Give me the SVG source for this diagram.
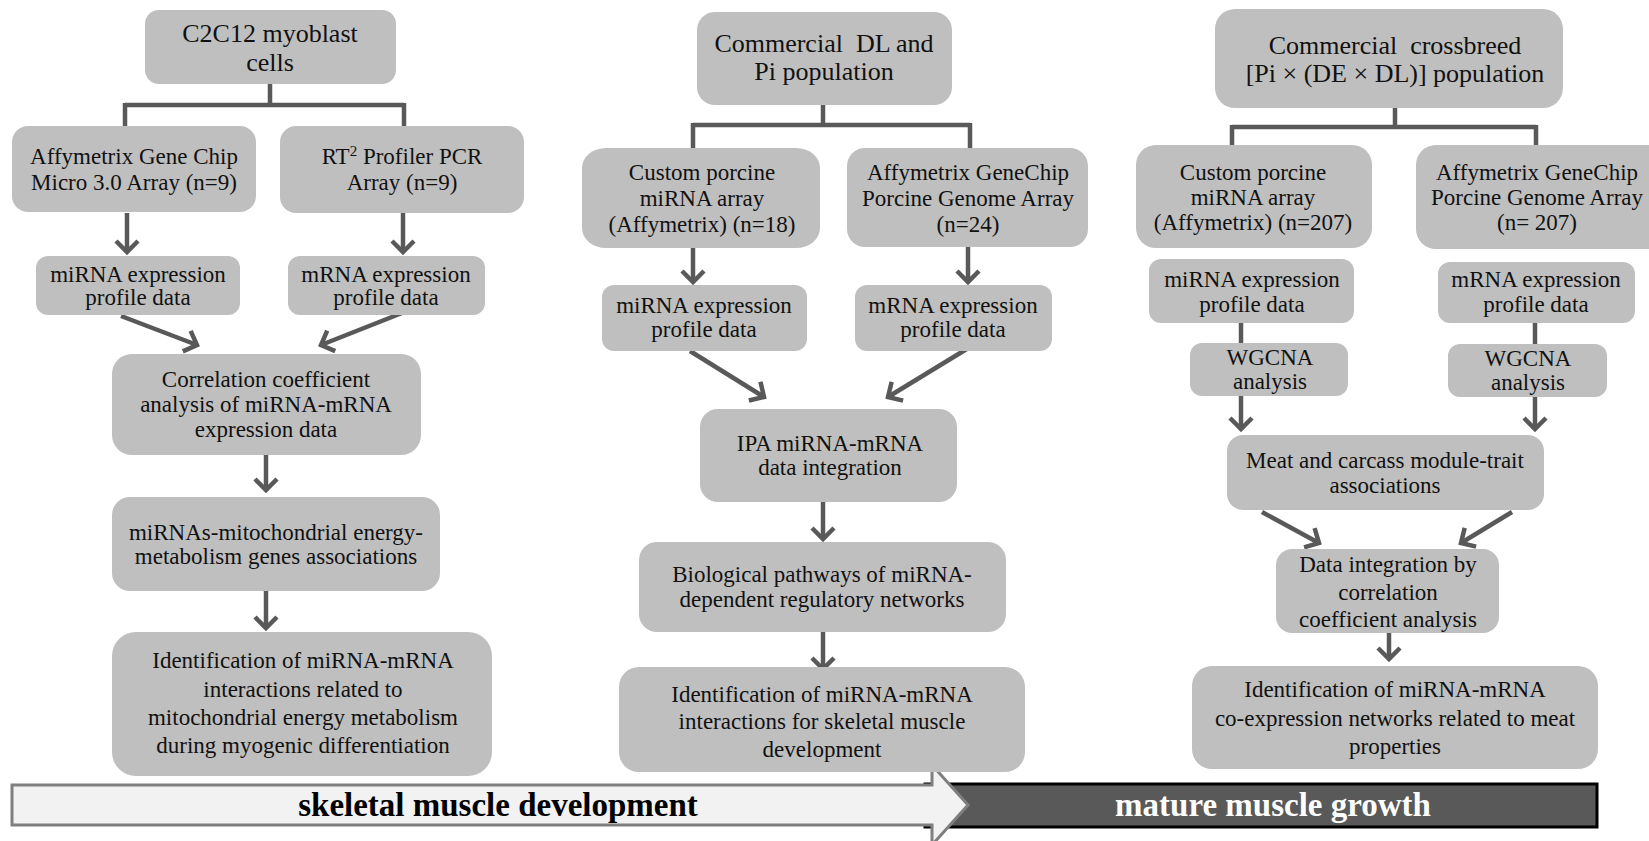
<svg xmlns="http://www.w3.org/2000/svg" width="1649" height="841" viewBox="0 0 1649 841">
  <defs>
    <style>
      .box { fill: #bfbfbf; }
      .t { font-family: "Liberation Serif", "Times New Roman", serif; font-size: 23px; fill: #111; text-anchor: middle; }
      .title { font-size: 26px; }
      .link { fill: none; stroke: #595959; stroke-width: 4.5; }
      .arrow { fill: none; stroke: #595959; stroke-width: 4.5; marker-end: url(#chev); }
      .band-text { font-family: "Liberation Serif", "Times New Roman", serif; font-size: 33px; font-weight: bold; text-anchor: middle; }
    </style>
    <marker id="chev" markerUnits="userSpaceOnUse" viewBox="-16 -16 32 32" markerWidth="32" markerHeight="32" refX="0" refY="0" orient="auto">
      <path d="M-11,-11 L0,0 L-11,11" fill="none" stroke="#595959" stroke-width="4.5"/>
    </marker>
  </defs>

  <rect width="1649" height="841" fill="#fff"/>

  <!-- timeline band -->
  <g id="timeline">
    <rect x="925" y="784" width="672" height="43" fill="#595959" stroke="#000" stroke-width="3"/>
    <polygon points="12,785 932,785 932,765 968,805 932,845 932,825 12,825" fill="#f2f2f2" stroke="#7f7f7f" stroke-width="3"/>
    <text class="band-text" x="498" y="816" fill="#000">skeletal muscle development</text>
    <text class="band-text" x="1273" y="816" fill="#fff">mature muscle growth</text>
  </g>

  <!-- connectors -->
  <g id="connectors">
    <!-- left branch -->
    <path class="link" d="M270,84 V105 M125,105 H404 M125,103 V126 M404,103 V126"/>
    <line class="arrow" x1="127" y1="213" x2="127" y2="252"/>
    <line class="arrow" x1="403" y1="213" x2="403" y2="252"/>
    <line class="arrow" x1="121" y1="316" x2="197" y2="345"/>
    <line class="arrow" x1="402" y1="313" x2="321" y2="345"/>
    <line class="arrow" x1="266" y1="455" x2="266" y2="490"/>
    <line class="arrow" x1="266" y1="591" x2="266" y2="628"/>
    <!-- middle branch -->
    <path class="link" d="M823,105 V125 M693,125 H970 M693,123 V148 M970,123 V148"/>
    <line class="arrow" x1="693" y1="248" x2="693" y2="282"/>
    <line class="arrow" x1="968" y1="247" x2="968" y2="282"/>
    <line class="arrow" x1="690" y1="351" x2="764" y2="397"/>
    <line class="arrow" x1="970" y1="347" x2="888" y2="397"/>
    <line class="arrow" x1="823" y1="502" x2="823" y2="539"/>
    <line class="arrow" x1="823" y1="632" x2="823" y2="669"/>
    <!-- right branch -->
    <path class="link" d="M1395,108 V127 M1232,127 H1536 M1232,125 V145 M1536,125 V145"/>
    <line class="link" x1="1241" y1="323" x2="1241" y2="343"/>
    <line class="link" x1="1535" y1="323" x2="1535" y2="344"/>
    <line class="arrow" x1="1241" y1="396" x2="1241" y2="429"/>
    <line class="arrow" x1="1535" y1="397" x2="1535" y2="429"/>
    <line class="arrow" x1="1262" y1="512" x2="1319" y2="543"/>
    <line class="arrow" x1="1512" y1="512" x2="1461" y2="543"/>
    <line class="arrow" x1="1389" y1="633" x2="1389" y2="659"/>
  </g>

  <!-- left column: C2C12 cells -->
  <g id="c2c12">
    <rect class="box" x="145" y="10" width="251" height="74" rx="14"/>
    <text class="t title" x="270" y="42">C2C12 myoblast</text>
    <text class="t title" x="270" y="71">cells</text>
  </g>
  <g id="affy-micro">
    <rect class="box" x="12" y="126" width="244" height="86" rx="16"/>
    <text class="t" x="134" y="164">Affymetrix Gene Chip</text>
    <text class="t" x="134" y="190">Micro 3.0 Array (n=9)</text>
  </g>
  <g id="rt2-array">
    <rect class="box" x="280" y="126" width="244" height="87" rx="16"/>
    <text class="t" x="402" y="164">RT<tspan font-size="15" dy="-8">2</tspan><tspan dy="8"> Profiler PCR</tspan></text>
    <text class="t" x="402" y="190">Array (n=9)</text>
  </g>
  <g id="mirna-profile-1">
    <rect class="box" x="36" y="256" width="204" height="59" rx="12"/>
    <text class="t" x="138" y="282">miRNA expression</text>
    <text class="t" x="138" y="305">profile data</text>
  </g>
  <g id="mrna-profile-1">
    <rect class="box" x="288" y="256" width="197" height="59" rx="12"/>
    <text class="t" x="386" y="282">mRNA expression</text>
    <text class="t" x="386" y="305">profile data</text>
  </g>
  <g id="correlation">
    <rect class="box" x="112" y="354" width="309" height="101" rx="20"/>
    <text class="t" x="266" y="387">Correlation coefficient</text>
    <text class="t" x="266" y="412">analysis of miRNA-mRNA</text>
    <text class="t" x="266" y="437">expression data</text>
  </g>
  <g id="mito-associations">
    <rect class="box" x="112" y="497" width="328" height="94" rx="18"/>
    <text class="t" x="276" y="540">miRNAs-mitochondrial energy-</text>
    <text class="t" x="276" y="564">metabolism genes associations</text>
  </g>
  <g id="ident-mito">
    <rect class="box" x="112" y="632" width="380" height="144" rx="24"/>
    <text class="t" x="303" y="668">Identification of miRNA-mRNA</text>
    <text class="t" x="303" y="697">interactions related to</text>
    <text class="t" x="303" y="725">mitochondrial energy metabolism</text>
    <text class="t" x="303" y="753">during myogenic differentiation</text>
  </g>

  <!-- middle column: DL and Pi population -->
  <g id="dl-pi">
    <rect class="box" x="697" y="12" width="255" height="93" rx="18"/>
    <text class="t title" x="824" y="52">Commercial&#160; DL and</text>
    <text class="t title" x="824" y="80">Pi population</text>
  </g>
  <g id="custom-mirna-18">
    <rect class="box" x="582" y="148" width="238" height="100" rx="24" ry="20"/>
    <text class="t" x="702" y="180">Custom porcine</text>
    <text class="t" x="702" y="206">miRNA array</text>
    <text class="t" x="702" y="232">(Affymetrix) (n=18)</text>
  </g>
  <g id="affy-porcine-24">
    <rect class="box" x="847" y="148" width="241" height="99" rx="18"/>
    <text class="t" x="968" y="180">Affymetrix GeneChip</text>
    <text class="t" x="968" y="206">Porcine Genome Array</text>
    <text class="t" x="968" y="232">(n=24)</text>
  </g>
  <g id="mirna-profile-2">
    <rect class="box" x="602" y="285" width="205" height="66" rx="12"/>
    <text class="t" x="704" y="313">miRNA expression</text>
    <text class="t" x="704" y="337">profile data</text>
  </g>
  <g id="mrna-profile-2">
    <rect class="box" x="855" y="285" width="197" height="66" rx="12"/>
    <text class="t" x="953" y="313">mRNA expression</text>
    <text class="t" x="953" y="337">profile data</text>
  </g>
  <g id="ipa">
    <rect class="box" x="700" y="409" width="257" height="93" rx="18"/>
    <text class="t" x="830" y="451">IPA miRNA-mRNA</text>
    <text class="t" x="830" y="475">data integration</text>
  </g>
  <g id="pathways">
    <rect class="box" x="639" y="542" width="367" height="90" rx="18"/>
    <text class="t" x="822" y="582">Biological pathways of miRNA-</text>
    <text class="t" x="822" y="607">dependent regulatory networks</text>
  </g>
  <g id="ident-skeletal">
    <rect class="box" x="619" y="667" width="406" height="105" rx="20"/>
    <text class="t" x="822" y="702">Identification of miRNA-mRNA</text>
    <text class="t" x="822" y="729">interactions for skeletal muscle</text>
    <text class="t" x="822" y="757">development</text>
  </g>

  <!-- right column: crossbreed population -->
  <g id="crossbreed">
    <rect class="box" x="1215" y="9" width="348" height="99" rx="20"/>
    <text class="t title" x="1395" y="54">Commercial&#160; crossbreed</text>
    <text class="t title" x="1395" y="82">[Pi × (DE × DL)] population</text>
  </g>
  <g id="custom-mirna-207">
    <rect class="box" x="1136" y="145" width="236" height="103" rx="20"/>
    <text class="t" x="1253" y="180">Custom porcine</text>
    <text class="t" x="1253" y="205">miRNA array</text>
    <text class="t" x="1253" y="230">(Affymetrix) (n=207)</text>
  </g>
  <g id="affy-porcine-207">
    <rect class="box" x="1416" y="145" width="260" height="104" rx="20"/>
    <text class="t" x="1537" y="180">Affymetrix GeneChip</text>
    <text class="t" x="1537" y="205">Porcine Genome Array</text>
    <text class="t" x="1537" y="230">(n= 207)</text>
  </g>
  <g id="mirna-profile-3">
    <rect class="box" x="1149" y="259" width="205" height="64" rx="12"/>
    <text class="t" x="1252" y="287">miRNA expression</text>
    <text class="t" x="1252" y="312">profile data</text>
  </g>
  <g id="mrna-profile-3">
    <rect class="box" x="1438" y="262" width="197" height="61" rx="12"/>
    <text class="t" x="1536" y="287">mRNA expression</text>
    <text class="t" x="1536" y="312">profile data</text>
  </g>
  <g id="wgcna-mirna">
    <rect class="box" x="1190" y="343" width="158" height="53" rx="12"/>
    <text class="t" x="1270" y="365">WGCNA</text>
    <text class="t" x="1270" y="389">analysis</text>
  </g>
  <g id="wgcna-mrna">
    <rect class="box" x="1448" y="344" width="159" height="53" rx="12"/>
    <text class="t" x="1528" y="366">WGCNA</text>
    <text class="t" x="1528" y="390">analysis</text>
  </g>
  <g id="module-trait">
    <rect class="box" x="1227" y="435" width="317" height="75" rx="16"/>
    <text class="t" x="1385" y="468">Meat and carcass module-trait</text>
    <text class="t" x="1385" y="493">associations</text>
  </g>
  <g id="data-integration">
    <rect class="box" x="1276" y="549" width="223" height="84" rx="16"/>
    <text class="t" x="1388" y="572">Data integration by</text>
    <text class="t" x="1388" y="600">correlation</text>
    <text class="t" x="1388" y="627">coefficient analysis</text>
  </g>
  <g id="ident-meat">
    <rect class="box" x="1192" y="666" width="406" height="103" rx="20"/>
    <text class="t" x="1395" y="697">Identification of miRNA-mRNA</text>
    <text class="t" x="1395" y="726">co-expression networks related to meat</text>
    <text class="t" x="1395" y="754">properties</text>
  </g>
</svg>
